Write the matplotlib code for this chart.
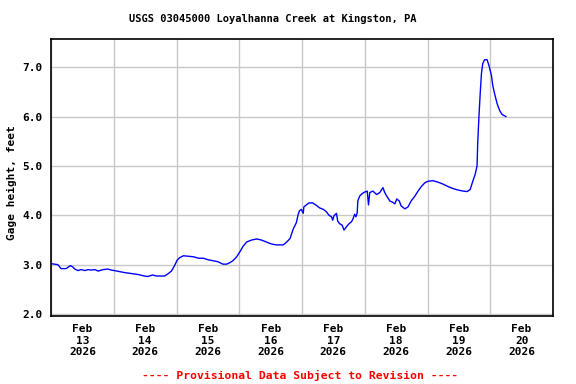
import numpy as np
import matplotlib
matplotlib.use("Agg")
import matplotlib.pyplot as plt
import matplotlib.dates as mdates

# gage height readings, time given in days after Feb 13 2026 00:00
day_offset = [0.00, 0.11, 0.16, 0.24, 0.31, 0.35, 0.38, 0.43, 0.48, 0.54, 0.59, 0.64,
              0.70, 0.75, 0.83, 0.91, 0.96, 1.01, 1.09, 1.17, 1.28, 1.39, 1.49, 1.54,
              1.62, 1.68, 1.73, 1.81, 1.86, 1.92, 1.97, 2.01, 2.05, 2.11, 2.19, 2.27,
              2.35, 2.43, 2.50, 2.58, 2.66, 2.74, 2.80, 2.85, 2.90, 2.96, 3.01, 3.06,
              3.12, 3.20, 3.28, 3.35, 3.43, 3.51, 3.59, 3.70, 3.75, 3.81, 3.86, 3.91,
              3.94, 3.96, 3.99, 4.02, 4.03, 4.07, 4.11, 4.17, 4.22, 4.28, 4.34, 4.39,
              4.43, 4.47, 4.49, 4.51, 4.55, 4.57, 4.60, 4.64, 4.67, 4.71, 4.75, 4.79,
              4.81, 4.84, 4.86, 4.88, 4.89, 4.92, 4.96, 5.00, 5.04, 5.06, 5.08, 5.13,
              5.19, 5.24, 5.29, 5.32, 5.35, 5.40, 5.45, 5.48, 5.51, 5.55, 5.58, 5.64,
              5.69, 5.74, 5.80, 5.85, 5.90, 5.96, 6.01, 6.09, 6.17, 6.25, 6.33, 6.41,
              6.49, 6.57, 6.63, 6.68, 6.72, 6.76, 6.79, 6.80, 6.82, 6.84, 6.86, 6.88,
              6.91, 6.95, 6.98, 7.02, 7.04, 7.07, 7.11, 7.15, 7.19, 7.25]
gage_ft = [3.02, 3.00, 2.92, 2.92, 2.98, 2.95, 2.91, 2.88, 2.90, 2.88, 2.90, 2.89,
           2.90, 2.87, 2.90, 2.91, 2.89, 2.88, 2.86, 2.84, 2.82, 2.80, 2.77, 2.76,
           2.79, 2.77, 2.77, 2.77, 2.81, 2.87, 2.98, 3.09, 3.14, 3.18, 3.17, 3.16,
           3.13, 3.13, 3.10, 3.08, 3.06, 3.01, 3.01, 3.04, 3.08, 3.16, 3.26, 3.37,
           3.46, 3.50, 3.52, 3.50, 3.46, 3.42, 3.40, 3.40, 3.45, 3.53, 3.72, 3.85,
           4.02, 4.09, 4.12, 4.04, 4.17, 4.21, 4.25, 4.25, 4.21, 4.15, 4.12, 4.07,
           4.00, 3.97, 3.90, 3.99, 4.04, 3.88, 3.83, 3.80, 3.70, 3.77, 3.83, 3.87,
           3.92, 4.02, 3.97, 4.05, 4.29, 4.39, 4.44, 4.47, 4.49, 4.21, 4.46, 4.49,
           4.42, 4.46, 4.56, 4.46, 4.39, 4.29, 4.26, 4.23, 4.33, 4.29, 4.19, 4.13,
           4.17, 4.29, 4.39, 4.49, 4.58, 4.66, 4.69, 4.70, 4.67, 4.63, 4.58, 4.54,
           4.51, 4.49, 4.48, 4.52, 4.68, 4.83, 5.00, 5.45, 5.99, 6.46, 6.87, 7.07,
           7.15, 7.15, 7.03, 6.83, 6.63, 6.46, 6.26, 6.12, 6.04, 6.00]

day_labels = ["Feb\n13\n2026", "Feb\n14\n2026", "Feb\n15\n2026", "Feb\n16\n2026",
              "Feb\n17\n2026", "Feb\n18\n2026", "Feb\n19\n2026", "Feb\n20\n2026"]
y_ticks = [2.0, 3.0, 4.0, 5.0, 6.0, 7.0]

start = np.datetime64("2026-02-13T00:00")
times = start + (np.array(day_offset) * 24 * 60).astype(int) * np.timedelta64(1, "m")
midnights = start + np.arange(9) * np.timedelta64(1, "D")
noons = start + np.timedelta64(12, "h") + np.arange(8) * np.timedelta64(1, "D")

mono = {"family": "DejaVu Sans Mono", "weight": "bold"}

fig = plt.figure(figsize=(5.76, 3.84), dpi=100)
ax = fig.add_axes([51 / 576, 1 - 316 / 384, 502 / 576, 277 / 384])

ax.plot(times, gage_ft, color="#0000ff", lw=1.0)

ax.set_xlim(midnights[0], midnights[-1])
ax.set_ylim(1.96, 7.57)

# gridlines at midnight, labels at noon
ax.set_xticks(midnights)
ax.set_xticklabels([])
ax.set_xticks(noons, minor=True)
ax.set_xticklabels(day_labels, minor=True, fontsize=8, linespacing=1.15, **mono)
ax.set_yticks(y_ticks)
ax.set_yticklabels([f"{v:.1f}" for v in y_ticks], fontsize=8, **mono)
ax.tick_params(which="both", length=0, pad=6)
ax.tick_params(axis="x", which="minor", pad=6)

ax.grid(True, which="major", color="#c8c8c8", lw=1)
ax.set_axisbelow(True)
for s in ax.spines.values():
    s.set_linewidth(1.2)

fig.text(12 / 576, 1 - 183 / 384, "Gage height, feet", rotation=90,
         ha="center", va="center", fontsize=8, **mono)
fig.text(273 / 576, 1 - 19 / 384, "USGS 03045000 Loyalhanna Creek at Kingston, PA",
         ha="center", va="center", fontsize=7.5, **mono)
fig.text(300 / 576, 1 - 375 / 384, "---- Provisional Data Subject to Revision ----",
         ha="center", va="center", fontsize=8.2, color="red", **mono)

fig.savefig("out.png", dpi=100)
